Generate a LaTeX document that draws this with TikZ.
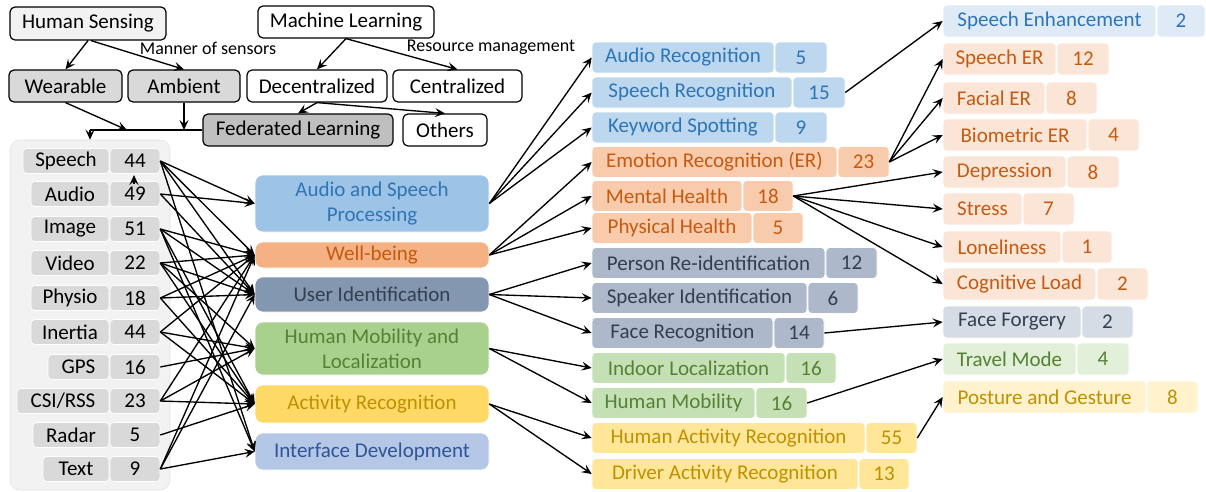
\documentclass[tikz,border=0pt]{standalone}
\usepackage{fontspec}
\setmainfont{Carlito}
\usetikzlibrary{arrows.meta}
\definecolor{gA}{HTML}{F2F2F2}
\definecolor{gB}{HTML}{D9D9D9}
\definecolor{gC}{HTML}{BFBFBF}
\definecolor{panelbd}{HTML}{E3E3E3}
\definecolor{blT}{HTML}{2E75B6}
\definecolor{orT}{HTML}{C55A11}
\definecolor{slT}{HTML}{333F50}
\definecolor{grT}{HTML}{548235}
\definecolor{yeT}{HTML}{BF9000}
\definecolor{idT}{HTML}{2F5597}
\definecolor{bl1}{HTML}{9DC3E6}
\definecolor{or1}{HTML}{F4B183}
\definecolor{sl1}{HTML}{8497B0}
\definecolor{gr1}{HTML}{A9D18E}
\definecolor{ye1}{HTML}{FFD966}
\definecolor{id1}{HTML}{B4C7E7}
\definecolor{bl2}{HTML}{BDD7EE}
\definecolor{or2}{HTML}{F8CBAD}
\definecolor{sl2}{HTML}{ADB9CA}
\definecolor{gr2}{HTML}{C5E0B4}
\definecolor{ye2}{HTML}{FFE699}
\definecolor{bl3}{HTML}{DEEBF7}
\definecolor{or3}{HTML}{FBE5D6}
\definecolor{sl3}{HTML}{D6DCE5}
\definecolor{gr3}{HTML}{E2F0D9}
\definecolor{ye3}{HTML}{FFF2CC}
\newcommand{\pairnode}[9]{%
  \pgfmathsetmacro{\pwa}{#3-#2-1}%
  \pgfmathsetmacro{\pwb}{#4-#3}%
  \pgfmathsetmacro{\pxa}{(#2+#3-1)/2}%
  \pgfmathsetmacro{\pxb}{(#3+#4)/2}%
  \node[cell,#9,minimum width=\pwa pt,minimum height=#6 pt] (#1) at (\pxa,#5) {#7};
  \node[cell,#9,minimum width=\pwb pt,minimum height=#6 pt] (#1n) at (\pxb,#5) {#8};
}
\tikzset{
  every node/.style={font=\fontsize{21}{25}\selectfont},
  topbox/.style={draw=black, line width=1.2pt, rounded corners=5pt, inner sep=0pt, minimum height=32pt},
  edgelab/.style={font=\fontsize{18}{21}\selectfont},
  cell/.style={rounded corners=4pt, draw=white, line width=0.6pt, inner sep=0pt},
  midbox/.style={rounded corners=8pt, draw=white, line width=0.6pt, inner sep=0pt, minimum width=234pt, align=center},
  arr/.style={-{Stealth[length=10pt,width=9pt,inset=4pt]}, line width=1.35pt},
  lft/.style={fill=gB, text=black},
  cB2/.style={fill=bl2, text=blT},
  cO2/.style={fill=or2, text=orT},
  cS2/.style={fill=sl2, text=slT},
  cG2/.style={fill=gr2, text=grT},
  cY2/.style={fill=ye2, text=yeT},
  cB3/.style={fill=bl3, text=blT},
  cO3/.style={fill=or3, text=orT},
  cS3/.style={fill=sl3, text=slT},
  cG3/.style={fill=gr3, text=grT},
  cY3/.style={fill=ye3, text=yeT},
}
\begin{document}
\begin{tikzpicture}[x=1pt,y=-1pt]
\useasboundingbox (0,0) rectangle (1206,491);
% ---------- top taxonomy ----------
\node[topbox, fill=gA, minimum width=156pt, minimum height=33pt] (hs) at (88,23.5) {Human Sensing};
\node[topbox, fill=white, minimum width=176pt] (ml) at (346,22) {Machine Learning};
\node[topbox, fill=gB, minimum width=113pt] (wear) at (65.5,86) {Wearable};
\node[topbox, fill=gB, minimum width=112pt] (amb) at (184,86) {Ambient};
\node[topbox, fill=white, minimum width=140pt] (dec) at (317,86) {Decentralized};
\node[topbox, fill=white, minimum width=129pt] (cen) at (457.5,86) {Centralized};
\node[topbox, fill=gC, minimum width=190pt] (fl) at (298,130) {Federated Learning};
\node[topbox, fill=white, minimum width=84pt] (oth) at (445,130) {Others};
\node[edgelab] (lab1) at (208,48) {Manner of sensors};
\node[edgelab] (lab2) at (491,47) {Resource management};
\draw[arr] (hs.south) -- (wear.north);
\draw[arr] ([xshift=3pt]hs.south) -- (amb.north);
\draw[arr] (ml.south) -- (dec.north);
\draw[arr] (ml.south) -- (cen.north);
\draw[arr] (dec.south) -- (fl.north);
\draw[arr] (dec.south) -- (oth.north);
% ---------- left panel ----------
\node[rounded corners=10pt, fill=gA, draw=panelbd, line width=0.6pt, minimum width=160pt, minimum height=350pt, inner sep=0pt] (panel) at (90,315) {};
\coordinate (jw) at (127,130);
\coordinate (ja) at (184,130);
\coordinate (jc) at (90,130);
\draw[arr] (wear.south) -- (jw);
\draw[arr] (amb.south) -- (ja);
\draw[line width=1.35pt] (fl.west) -- (jc);
\draw[arr] (jc) -- (panel.north);
\pairnode{sp}{23}{110}{160}{161}{25}{Speech}{44}{lft}
\pairnode{au}{31}{110}{160}{194}{25}{Audio}{49}{lft}
\pairnode{im}{31}{110}{160}{229}{25}{Image}{51}{lft}
\pairnode{vi}{31}{110}{160}{263}{25}{Video}{22}{lft}
\pairnode{phy}{31}{110}{160}{298}{25}{Physio}{18}{lft}
\pairnode{ine}{31}{110}{160}{332}{25}{Inertia}{44}{lft}
\pairnode{gps}{48}{110}{160}{367}{25}{GPS}{16}{lft}
\pairnode{csi}{17}{110}{160}{401}{25}{CSI/RSS}{23}{lft}
\pairnode{ra}{33}{110}{160}{435}{25}{Radar}{5}{lft}
\pairnode{tx}{43}{110}{160}{469}{25}{Text}{9}{lft}
\coordinate (tk1) at (134,184);
\coordinate (tk2) at (134,175);
\draw[arr] (tk1) -- (tk2);
% ---------- middle column ----------
\node[midbox, fill=bl1, text=blT, minimum height=57pt] (asp) at (372,203.5) {Audio and Speech\\Processing};
\node[midbox, fill=or1, text=orT, minimum height=26pt] (wb) at (372,255) {Well-being};
\node[midbox, fill=sl1, text=slT, minimum height=35pt] (ui) at (372,294.5) {User Identification};
\node[midbox, fill=gr1, text=grT, minimum height=53pt] (hml) at (372,348.5) {Human Mobility and\\Localization};
\node[midbox, fill=ye1, text=yeT, minimum height=38pt] (acr) at (372,404) {Activity Recognition};
\node[midbox, fill=id1, text=idT, minimum height=37pt] (idv) at (372,451.5) {Interface Development};
% left connections
\foreach \s/\t in {spn/asp, spn/wb, spn/ui, spn/idv,
                   aun/asp, aun/ui,
                   imn/wb, imn/ui, imn/acr, imn/idv,
                   vin/wb, vin/ui, vin/hml, vin/acr,
                   phyn/wb, phyn/ui, phyn/acr,
                   inen/wb, inen/hml, inen/acr,
                   gpsn/hml,
                   csin/wb, csin/hml, csin/acr,
                   ran/acr,
                   txn/wb, txn/idv, txn/ui}
  \draw[arr] (\s.east) -- (\t.west);
% ---------- second column ----------
\pairnode{arc}{592}{775}{827}{57.5}{31}{Audio Recognition}{5}{cB2}
\pairnode{src}{592}{793}{845}{92.5}{31}{Speech Recognition}{15}{cB2}
\pairnode{ks}{592}{775}{827}{127.5}{31}{Keyword Spotting}{9}{cB2}
\pairnode{er}{592}{838}{889}{162}{31}{Emotion Recognition (ER)}{23}{cO2}
\pairnode{mh}{592}{743}{793}{196}{31}{Mental Health}{18}{cO2}
\pairnode{ph}{592}{753}{803}{228}{31}{Physical Health}{5}{cO2}
\pairnode{pr}{592}{826}{877}{263}{31}{Person Re-identification}{12}{cS2}
\pairnode{si}{592}{808}{858}{298}{31}{Speaker Identification}{6}{cS2}
\pairnode{fr}{592}{774}{824}{333}{31}{Face Recognition}{14}{cS2}
\pairnode{il}{592}{786}{836}{368}{31}{Indoor Localization}{16}{cG2}
\pairnode{hm}{592}{756}{807}{403}{31}{Human Mobility}{16}{cG2}
\pairnode{har}{592}{866}{917}{438}{31}{Human Activity Recognition}{55}{cY2}
\pairnode{dar}{592}{859}{909}{474}{31}{Driver Activity Recognition}{13}{cY2}
\foreach \s/\t in {asp/arc, asp/src, asp/ks, wb/er, wb/mh, wb/ph,
                   ui/pr, ui/si, ui/fr, hml/il, hml/hm, acr/har, acr/dar}
  \draw[arr] (\s.east) -- (\t.west);
% ---------- third column ----------
\pairnode{se}{943}{1157}{1205}{21}{32}{Speech Enhancement}{2}{cB3}
\pairnode{ser}{943}{1057}{1109}{59}{32}{Speech ER}{12}{cO3}
\pairnode{fer}{943}{1046}{1097}{98}{32}{Facial ER}{8}{cO3}
\pairnode{ber}{943}{1088}{1139}{135}{32}{Biometric ER}{4}{cO3}
\pairnode{dep}{943}{1067}{1119}{172}{32}{Depression}{8}{cO3}
\pairnode{str}{943}{1023}{1074}{209}{32}{Stress}{7}{cO3}
\pairnode{lon}{943}{1062}{1112}{247}{32}{Loneliness}{1}{cO3}
\pairnode{cl}{943}{1097}{1148}{284}{32}{Cognitive Load}{2}{cO3}
\pairnode{ff}{943}{1082}{1133}{322}{32}{Face Forgery}{2}{cS3}
\pairnode{tm}{943}{1077}{1129}{359}{32}{Travel Mode}{4}{cG3}
\pairnode{pg}{943}{1147}{1198}{397}{32}{Posture and Gesture}{8}{cY3}
\foreach \s/\t in {srcn/se, ern/ser, ern/fer, ern/ber, mhn/dep, mhn/str, mhn/lon, mhn/cl,
                   frn/ff, hmn/tm, harn/pg}
  \draw[arr] (\s.east) -- (\t.west);
\end{tikzpicture}
\end{document}
